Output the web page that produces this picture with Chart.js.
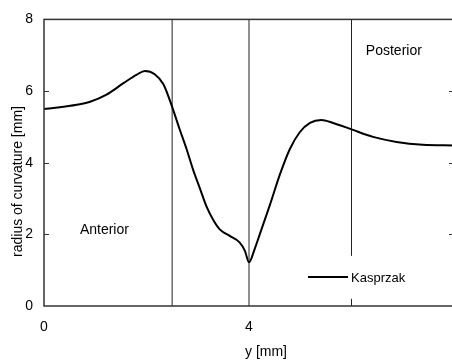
<!DOCTYPE html>
<html>
<head>
<meta charset="utf-8">
<script src="https://cdn.jsdelivr.net/npm/chart.js@4"></script>
<style>
  html, body { margin: 0; padding: 0; background: #fff; overflow: hidden; }
  #wrap { width: 456px; height: 361px; }
</style>
</head>
<body>
<div id="wrap"><canvas id="chart" width="456" height="361"></canvas></div>
<script>
// curve (x = y [mm], y = radius of curvature [mm])
const curveX = [0, 0.31, 0.70, 0.90, 1.22, 1.55, 1.81, 1.97, 2.16, 2.33, 2.50, 2.65, 2.78, 2.91, 3.04, 3.17, 3.30, 3.43, 3.63, 3.82, 3.92, 4.00, 4.11, 4.21, 4.41, 4.60, 4.80, 4.99, 5.19, 5.41, 5.64, 6.00, 6.42, 6.88, 7.39, 8.00];
const curveY = [5.50, 5.55, 5.63, 5.70, 5.90, 6.22, 6.46, 6.56, 6.47, 6.19, 5.56, 4.92, 4.39, 3.80, 3.29, 2.78, 2.41, 2.14, 1.95, 1.77, 1.54, 1.22, 1.59, 2.00, 2.83, 3.66, 4.39, 4.85, 5.11, 5.19, 5.11, 4.93, 4.72, 4.58, 4.50, 4.48];
const seriesName = 'Kasprzak';

// region dividers (the one at 6 is broken around the legend)
const dividerX = [2.5, 4, 6, 6];
const dividerFrom = [0, 0, 1.4, 0];
const dividerTo = [8, 8, 8, 0.2];

const regionNames = ['Anterior', 'Posterior'];
const regionX = [0.70, 6.28];
const regionY = [2.0, 7.02];

const xTickValues = [0, 4];
const yTickMarks = [2, 4, 6];

const FONT = 'Arial, "Liberation Sans", sans-serif';

const datasets = [{
    label: seriesName,
    data: curveX.map((x, i) => ({ x: x, y: curveY[i] })),
    borderColor: '#000',
    borderWidth: 2,
    pointRadius: 0,
    cubicInterpolationMode: 'monotone',
    showLine: true
}];

dividerX.forEach((x, i) => {
    datasets.push({
        label: 'divider' + i,
        data: [{ x: x, y: dividerFrom[i] }, { x: x, y: dividerTo[i] }],
        borderColor: '#222',
        borderWidth: 1,
        pointRadius: 0,
        showLine: true
    });
});

const decorations = {
    id: 'decorations',
    afterDraw(chart) {
        const ctx = chart.ctx;
        const a = chart.chartArea;
        const xs = chart.scales.x, ys = chart.scales.y;
        ctx.save();

        // frame
        ctx.strokeStyle = '#333';
        ctx.lineWidth = 1.5;
        ctx.strokeRect(a.left, a.top, a.right - a.left, a.bottom - a.top);

        // inward ticks on both y sides
        ctx.lineWidth = 1;
        yTickMarks.forEach(v => {
            const py = Math.round(ys.getPixelForValue(v)) + 0.5;
            ctx.beginPath();
            ctx.moveTo(a.left, py); ctx.lineTo(a.left + 5, py);
            ctx.moveTo(a.right, py); ctx.lineTo(a.right - 5, py);
            ctx.stroke();
        });

        ctx.fillStyle = '#000';
        ctx.font = '14px ' + FONT;

        // region labels
        ctx.textAlign = 'left';
        ctx.textBaseline = 'alphabetic';
        regionNames.forEach((name, i) => {
            ctx.fillText(name, xs.getPixelForValue(regionX[i]), ys.getPixelForValue(regionY[i]));
        });

        // axis titles
        ctx.textAlign = 'center';
        ctx.textBaseline = 'middle';
        ctx.fillText('y [mm]', 266, 352);
        ctx.save();
        ctx.translate(18, 181.5);
        ctx.rotate(-Math.PI / 2);
        ctx.fillText('radius of curvature [mm]', 0, 0);
        ctx.restore();

        // legend
        ctx.strokeStyle = '#000';
        ctx.lineWidth = 2;
        ctx.beginPath();
        ctx.moveTo(308, 277); ctx.lineTo(348, 277);
        ctx.stroke();
        ctx.font = '13px ' + FONT;
        ctx.textAlign = 'left';
        ctx.textBaseline = 'alphabetic';
        ctx.fillText(seriesName, 351, 281.5);

        ctx.restore();
    }
};

new Chart(document.getElementById('chart'), {
    type: 'scatter',
    data: { datasets: datasets },
    options: {
        responsive: false,
        animation: false,
        devicePixelRatio: 1,
        layout: { padding: { top: 16, right: 2, left: 0, bottom: 0 } },
        plugins: {
            legend: { display: false },
            tooltip: { enabled: false }
        },
        scales: {
            x: {
                type: 'linear',
                min: 0,
                max: 8,
                afterBuildTicks: s => { s.ticks = xTickValues.map(v => ({ value: v })); },
                afterFit: s => { s.height = 55; },
                ticks: { color: '#000', font: { size: 14, family: FONT }, padding: 13, maxRotation: 0 },
                grid: { display: false, drawTicks: false },
                border: { display: false }
            },
            y: {
                min: 0,
                max: 8,
                afterFit: s => { s.width = 44; },
                ticks: { stepSize: 2, color: '#000', font: { size: 14, family: FONT }, padding: 11 },
                grid: { display: false, drawTicks: false },
                border: { display: false }
            }
        }
    },
    plugins: [decorations]
});
</script>
</body>
</html>
